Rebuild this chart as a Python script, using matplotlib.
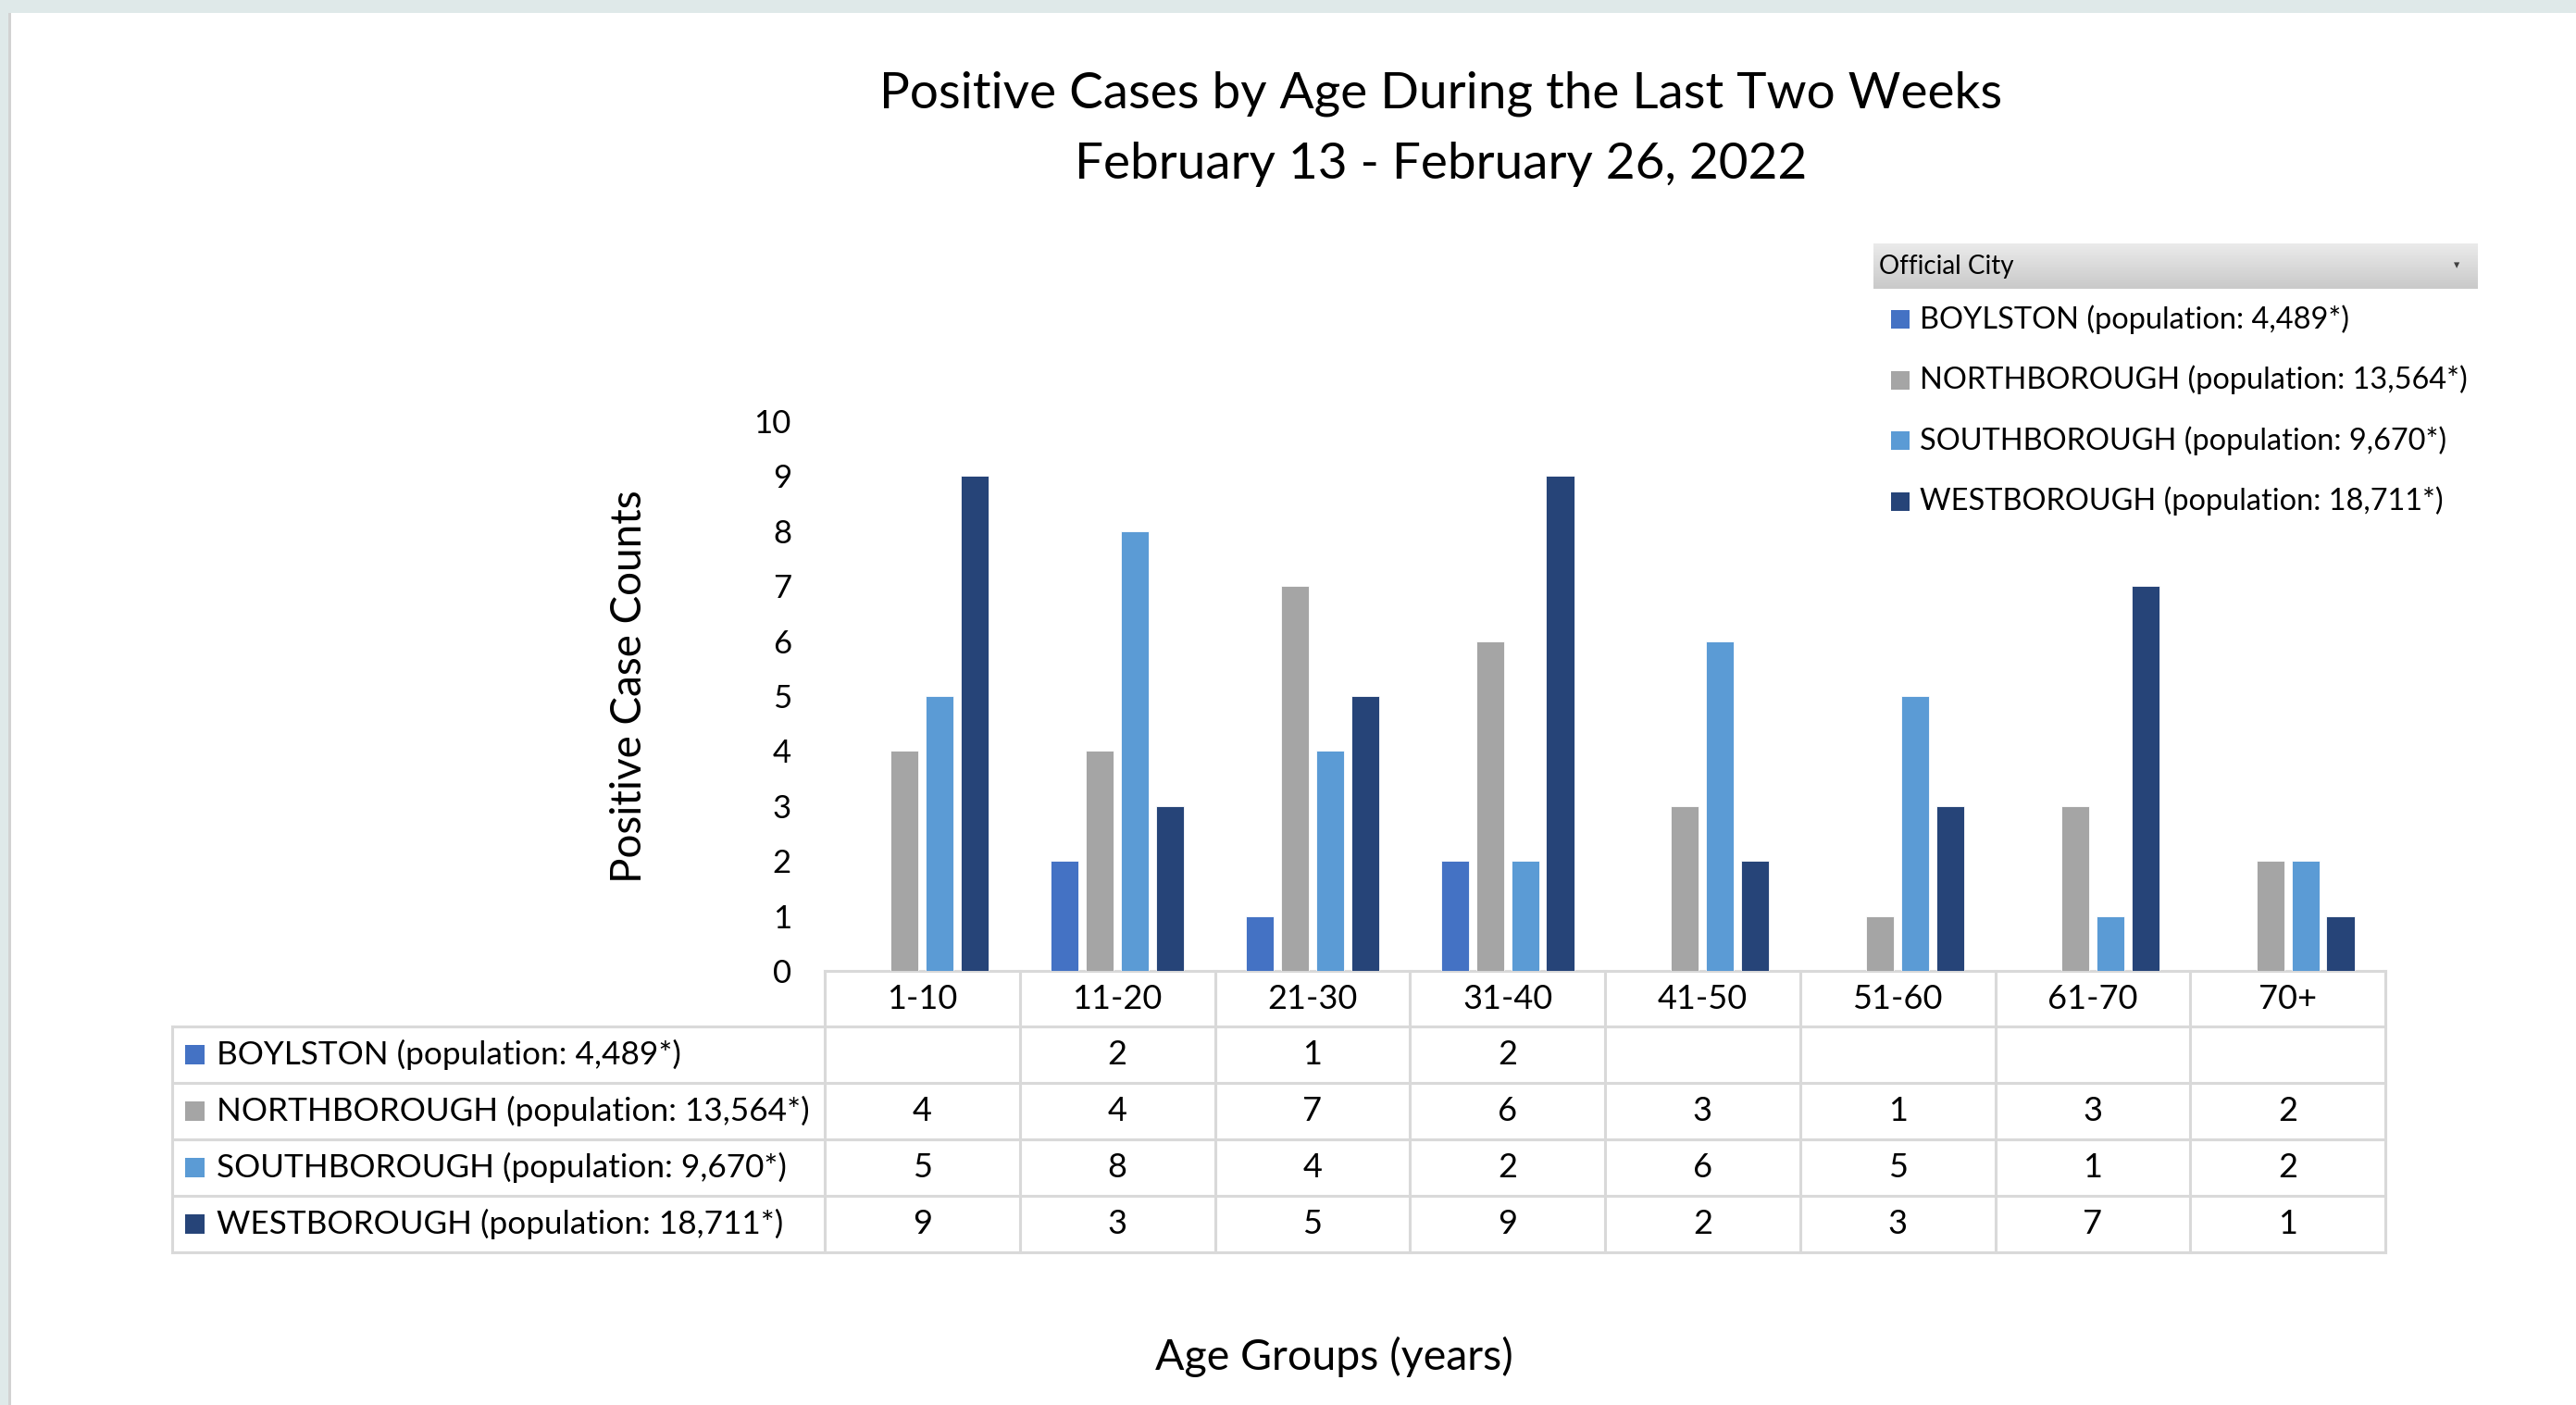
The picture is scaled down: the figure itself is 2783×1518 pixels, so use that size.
import numpy as np
import matplotlib
matplotlib.use("Agg")
import matplotlib.pyplot as plt
from matplotlib.patches import Rectangle

plt.rcParams["font.family"] = ["Lato", "DejaVu Sans"]

# ---- data -------------------------------------------------------------
TITLE_LINES = ["Positive Cases by Age During the Last Two Weeks",
               "February 13 - February 26, 2022"]
AGE_GROUPS = ["1-10", "11-20", "21-30", "31-40", "41-50", "51-60", "61-70", "70+"]
CITIES = [
    "BOYLSTON (population: 4,489*)",
    "NORTHBOROUGH (population: 13,564*)",
    "SOUTHBOROUGH (population: 9,670*)",
    "WESTBOROUGH (population: 18,711*)",
]
BOYLSTON = [np.nan, 2, 1, 2, np.nan, np.nan, np.nan, np.nan]
NORTHBOROUGH = [4, 4, 7, 6, 3, 1, 3, 2]
SOUTHBOROUGH = [5, 8, 4, 2, 6, 5, 1, 2]
WESTBOROUGH = [9, 3, 5, 9, 2, 3, 7, 1]
COLORS = ["#4472C4", "#A5A5A5", "#5B9BD5", "#264478"]
YTICKS = list(range(0, 11))

# ---- layout (pixels of the 2783x1518 canvas) --------------------------
W, H = 2783, 1518
DPI = 100
PLOT_L, PLOT_R = 891, 2577
PLOT_TOP, PLOT_BOT = 455, 1049
TAB_L = 186
ROW_EDGES = [1049, 1109, 1170, 1231, 1292, 1353]
GRID = "#d9d9d9"

fig = plt.figure(figsize=(W / DPI, H / DPI), dpi=DPI)

# full-canvas overlay in pixel coordinates
bg = fig.add_axes([0, 0, 1, 1], zorder=0)
bg.set_xlim(0, W)
bg.set_ylim(H, 0)
bg.axis("off")
bg.add_patch(Rectangle((0, 0), W, 14, color="#dfe9e9", lw=0))
bg.add_patch(Rectangle((0, 0), 9, H, color="#dfe9e9", lw=0))
bg.add_patch(Rectangle((9, 14), 2.5, H, color="#d2d2d2", lw=0))

# ---- bars -------------------------------------------------------------
ax = fig.add_axes([PLOT_L / W, 1 - PLOT_BOT / H,
                   (PLOT_R - PLOT_L) / W, (PLOT_BOT - PLOT_TOP) / H], zorder=2)
ax.patch.set_alpha(0)
series = [BOYLSTON, NORTHBOROUGH, SOUTHBOROUGH, WESTBOROUGH]
x = np.arange(len(AGE_GROUPS))
step, width = 0.180, 0.143
for i, (vals, col) in enumerate(zip(series, COLORS)):
    ax.bar(x + (i - 1.5) * step, np.nan_to_num(vals), width=width, color=col,
           edgecolor="white", linewidth=0.6)
ax.set_xlim(-0.5, len(AGE_GROUPS) - 0.5)
ax.set_ylim(0, 10)
ax.set_yticks(YTICKS)
ax.set_xticks([])
ax.tick_params(axis="y", length=0, pad=26, labelsize=25)
for s in ax.spines.values():
    s.set_visible(False)

# ---- title / axis labels ------------------------------------------------
fig.text(1557 / W, 1 - 101 / H, TITLE_LINES[0], ha="center", va="center", fontsize=39.5)
fig.text(1557 / W, 1 - 177 / H, TITLE_LINES[1], ha="center", va="center", fontsize=39.5)
fig.text(680 / W, 1 - 742 / H, "Positive Case Counts", ha="center", va="center",
         rotation=90, fontsize=33)
fig.text(1441 / W, 1 - 1466 / H, "Age Groups (years)", ha="center",
         va="center", fontsize=33.5)

# ---- data table under the axis ----------------------------------------
cw = (PLOT_R - PLOT_L) / len(AGE_GROUPS)
lw = 2.2
bg.plot([PLOT_L, PLOT_R], [ROW_EDGES[0]] * 2, color=GRID, lw=lw, zorder=3)
for y in ROW_EDGES[1:]:
    bg.plot([TAB_L, PLOT_R], [y, y], color=GRID, lw=lw, zorder=3)
bg.plot([TAB_L, TAB_L], [ROW_EDGES[1], ROW_EDGES[-1]], color=GRID, lw=lw, zorder=3)
for j in range(len(AGE_GROUPS) + 1):
    xx = PLOT_L + j * cw
    bg.plot([xx, xx], [ROW_EDGES[0], ROW_EDGES[-1]], color=GRID, lw=lw, zorder=3)

hy = (ROW_EDGES[0] + ROW_EDGES[1]) / 2
for j, lab in enumerate(AGE_GROUPS):
    bg.text(PLOT_L + (j + 0.5) * cw, hy, lab, ha="center", va="center", fontsize=26)

for i, (name, vals, col) in enumerate(zip(CITIES, series, COLORS)):
    cy = (ROW_EDGES[i + 1] + ROW_EDGES[i + 2]) / 2
    bg.add_patch(Rectangle((200, cy - 10.5), 21, 21, color=col, lw=0))
    bg.text(234, cy, name, ha="left", va="center", fontsize=25.3)
    for j, v in enumerate(vals):
        if not np.isnan(v):
            bg.text(PLOT_L + (j + 0.5) * cw, cy, f"{v:g}", ha="center",
                    va="center", fontsize=26)

# ---- legend box ("Official City") ---------------------------------------
grad = np.linspace(0.92, 0.79, 50).reshape(-1, 1)
bg.imshow(np.dstack([grad, grad, grad]), extent=(2024, 2677, 312, 263),
          aspect="auto", zorder=1)
bg.set_xlim(0, W)
bg.set_ylim(H, 0)
bg.text(2030, 288, "Official City", ha="left", va="center", fontsize=20)
bg.text(2654, 286, "\u25be", ha="center", va="center", fontsize=9, color="#404040")
for i, (name, col) in enumerate(zip(CITIES, COLORS)):
    cy = 345 + i * 65.5
    bg.add_patch(Rectangle((2043, cy - 10), 20, 20, color=col, lw=0))
    bg.text(2074, cy, name, ha="left", va="center", fontsize=23.4)

fig.savefig("out.png", dpi=DPI)
